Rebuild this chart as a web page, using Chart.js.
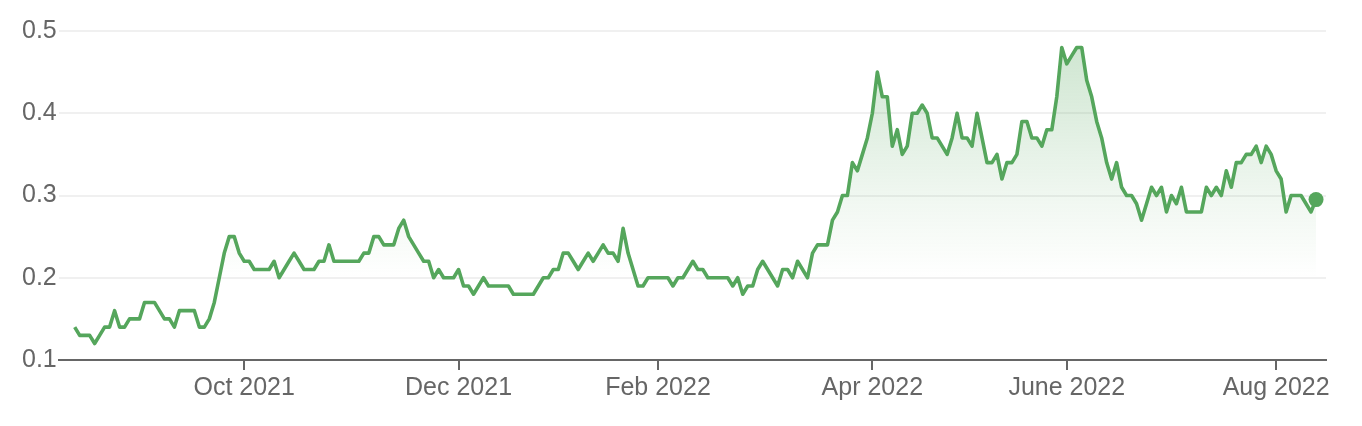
<!DOCTYPE html>
<html>
<head>
<meta charset="utf-8">
<script src="https://cdn.jsdelivr.net/npm/chart.js@4.4.1/dist/chart.umd.min.js"></script>
<style>
  body { margin: 0; background: #fff; }
  #wrap { width: 1362px; height: 426px; }
</style>
</head>
<body>
<div id="wrap"><canvas id="priceChart"></canvas></div>
<script>
// daily closes, one per trading day
const prices = [
  0.14, 0.13, 0.13, 0.13, 0.12, 0.13, 0.14, 0.14, 0.16, 0.14,
  0.14, 0.15, 0.15, 0.15, 0.17, 0.17, 0.17, 0.16, 0.15, 0.15,
  0.14, 0.16, 0.16, 0.16, 0.16, 0.14, 0.14, 0.15, 0.17, 0.20,
  0.23, 0.25, 0.25, 0.23, 0.22, 0.22, 0.21, 0.21, 0.21, 0.21,
  0.22, 0.20, 0.21, 0.22, 0.23, 0.22, 0.21, 0.21, 0.21, 0.22,
  0.22, 0.24, 0.22, 0.22, 0.22, 0.22, 0.22, 0.22, 0.23, 0.23,
  0.25, 0.25, 0.24, 0.24, 0.24, 0.26, 0.27, 0.25, 0.24, 0.23,
  0.22, 0.22, 0.20, 0.21, 0.20, 0.20, 0.20, 0.21, 0.19, 0.19,
  0.18, 0.19, 0.20, 0.19, 0.19, 0.19, 0.19, 0.19, 0.18, 0.18,
  0.18, 0.18, 0.18, 0.19, 0.20, 0.20, 0.21, 0.21, 0.23, 0.23,
  0.22, 0.21, 0.22, 0.23, 0.22, 0.23, 0.24, 0.23, 0.23, 0.22,
  0.26, 0.23, 0.21, 0.19, 0.19, 0.20, 0.20, 0.20, 0.20, 0.20,
  0.19, 0.20, 0.20, 0.21, 0.22, 0.21, 0.21, 0.20, 0.20, 0.20,
  0.20, 0.20, 0.19, 0.20, 0.18, 0.19, 0.19, 0.21, 0.22, 0.21,
  0.20, 0.19, 0.21, 0.21, 0.20, 0.22, 0.21, 0.20, 0.23, 0.24,
  0.24, 0.24, 0.27, 0.28, 0.30, 0.30, 0.34, 0.33, 0.35, 0.37,
  0.40, 0.45, 0.42, 0.42, 0.36, 0.38, 0.35, 0.36, 0.40, 0.40,
  0.41, 0.40, 0.37, 0.37, 0.36, 0.35, 0.37, 0.40, 0.37, 0.37,
  0.36, 0.40, 0.37, 0.34, 0.34, 0.35, 0.32, 0.34, 0.34, 0.35,
  0.39, 0.39, 0.37, 0.37, 0.36, 0.38, 0.38, 0.42, 0.48, 0.46,
  0.47, 0.48, 0.48, 0.44, 0.42, 0.39, 0.37, 0.34, 0.32, 0.34,
  0.31, 0.30, 0.30, 0.29, 0.27, 0.29, 0.31, 0.30, 0.31, 0.28,
  0.30, 0.29, 0.31, 0.28, 0.28, 0.28, 0.28, 0.31, 0.30, 0.31,
  0.30, 0.33, 0.31, 0.34, 0.34, 0.35, 0.35, 0.36, 0.34, 0.36,
  0.35, 0.33, 0.32, 0.28, 0.30, 0.30, 0.30, 0.29, 0.28, 0.295
];

// trading-day index where each month label sits
const monthTickIndex = [34, 77, 117, 160, 199, 241];
const monthTickLabels = ['Oct 2021', 'Dec 2021', 'Feb 2022', 'Apr 2022', 'June 2022', 'Aug 2022'];
const yTickValues = [0.1, 0.2, 0.3, 0.4, 0.5];

const lineGreen = 'rgb(85, 166, 92)';
const axisGrey = '#666666';

const ctx = document.getElementById('priceChart').getContext('2d');
const chart = new Chart(ctx, {
    type: 'line',
    data: {
        datasets: [{
            data: prices.map((p, i) => ({ x: i, y: p })),
            borderColor: lineGreen,
            borderWidth: 3.6,
            borderJoinStyle: 'round',
            tension: 0,
            fill: 'start',
            backgroundColor: function(context) {
                const area = context.chart.chartArea;
                if (!area) return 'rgba(85,166,92,0.1)';
                const g = context.chart.ctx.createLinearGradient(0, area.top, 0, area.bottom);
                g.addColorStop(0, 'rgba(85,166,92,0.3)');
                g.addColorStop(0.5, 'rgba(85,166,92,0.09)');
                g.addColorStop(0.75, 'rgba(85,166,92,0)');
                g.addColorStop(1, 'rgba(85,166,92,0)');
                return g;
            },
            pointRadius: (c) => c.dataIndex === prices.length - 1 ? 7.5 : 0,
            pointHoverRadius: 0,
            pointBackgroundColor: lineGreen,
            pointBorderWidth: 0
        }]
    },
    options: {
        responsive: true,
        maintainAspectRatio: false,
        animation: false,
        layout: {
            padding: { left: 20, right: 36, top: 31, bottom: 20 }
        },
        plugins: {
            legend: { display: false },
            tooltip: { enabled: false }
        },
        scales: {
            x: {
                type: 'linear',
                min: -3.2,
                max: 251,
                afterBuildTicks: function(axis) {
                    axis.ticks = monthTickIndex.map(v => ({ value: v }));
                },
                border: { display: true, color: axisGrey, width: 2 },
                grid: {
                    drawOnChartArea: false,
                    drawTicks: true,
                    tickLength: 10,
                    color: axisGrey,
                    lineWidth: 2
                },
                ticks: {
                    autoSkip: false,
                    maxRotation: 0,
                    padding: 3,
                    color: axisGrey,
                    font: { family: '"Liberation Sans", Arial, sans-serif', size: 25 },
                    callback: (value) => monthTickLabels[monthTickIndex.indexOf(value)]
                }
            },
            y: {
                min: 0.1,
                max: 0.5,
                afterBuildTicks: function(axis) {
                    axis.ticks = yTickValues.map(v => ({ value: v }));
                },
                border: { display: false },
                grid: {
                    drawTicks: false,
                    color: '#f0f0f0',
                    lineWidth: 2
                },
                ticks: {
                    padding: 2,
                    color: axisGrey,
                    font: { family: '"Liberation Sans", Arial, sans-serif', size: 25 },
                    callback: (value) => value.toFixed(1)
                }
            }
        }
    }
});
</script>
</body>
</html>
